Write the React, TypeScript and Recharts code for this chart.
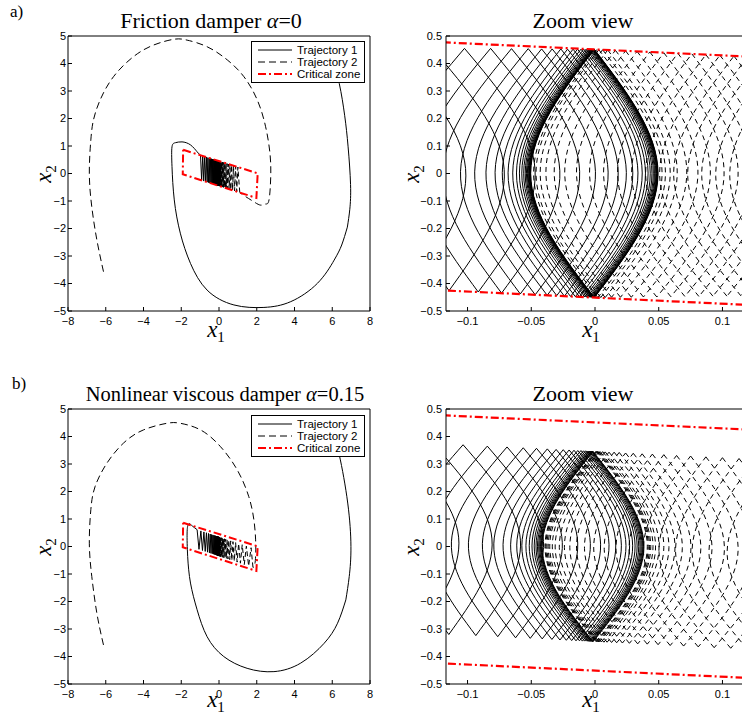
import React from 'react';
import { LineChart, Line, XAxis, YAxis, Legend } from 'recharts';

type Pt = [number, number];
type Row = { x: number; y: number | null };

// ---------- axes ----------
const overviewXTicks = [-8, -6, -4, -2, 0, 2, 4, 6, 8];
const overviewYTicks = [-5, -4, -3, -2, -1, 0, 1, 2, 3, 4, 5];
const zoomXTicks = [-0.1, -0.05, 0, 0.05, 0.1];
const zoomYTicks = [-0.5, -0.4, -0.3, -0.2, -0.1, 0, 0.1, 0.2, 0.3, 0.4, 0.5];
const overviewXDomain: [number, number] = [-8, 8];
const overviewYDomain: [number, number] = [-5, 5];
const zoomXDomain: [number, number] = [-0.1169, 0.1169];
const zoomYDomain: [number, number] = [-0.5, 0.5];

const seriesNames = ['Trajectory 1', 'Trajectory 2', 'Critical zone'];

// ---------- critical zone (same in all panels) ----------
const criticalZone: Pt[] = [[-1.9, 0.863], [2.05, 0.007], [1.98, -0.889], [-1.92, -0.027], [-1.9, 0.863]];

// ---------- a) friction damper, overview ----------
const aTraj1Outer: Pt[][] = [
  [[5.95, 4.4], [6.37, 3.28], [6.66, 2.1], [6.84, 0.97], [6.97, -0.4], [6.93, -1.3], [6.8, -1.95]],
  [[6.8, -1.95], [6.5, -2.6], [6.1, -3.15], [5.22, -3.99], [3.8, -4.66], [2.38, -4.87], [0.79, -4.78], [-0.63, -4.24],
   [-1.51, -3.27], [-2.05, -2.17], [-2.37, -0.96], [-2.49, 0.25], [-2.49, 0.97], [-2.31, 1.12], [-1.96, 1.15],
   [-1.51, 1.04], [-1.16, 0.79], [-0.98, 0.664]],
];
const aTraj1Zigzag: Pt[] = [
  [-0.98, 0.664], [-0.92, -0.251], [-0.862, 0.638], [-0.81, -0.275], [-0.759, 0.616], [-0.713, -0.296], [-0.668, 0.596],
  [-0.628, -0.315], [-0.588, 0.579], [-0.552, -0.331], [-0.517, 0.563], [-0.486, -0.346], [-0.455, 0.55], [-0.427, -0.358],
  [-0.4, 0.538], [-0.376, -0.369], [-0.352, 0.527], [-0.331, -0.379], [-0.31, 0.518], [-0.291, -0.388], [-0.273, 0.51],
  [-0.256, -0.395], [-0.24, 0.503], [-0.225, -0.402], [-0.211, 0.497], [-0.198, -0.408], [-0.186, 0.491], [-0.174, -0.413],
  [-0.163, 0.486], [-0.151, -0.418], [-0.14, 0.481], [-0.13, -0.423], [-0.12, 0.477], [-0.11, -0.427], [-0.1, 0.473],
  [-0.091, -0.431], [-0.082, 0.469], [-0.074, -0.435], [-0.066, 0.465], [-0.059, -0.438], [-0.052, 0.462], [-0.046, -0.441],
  [-0.04, 0.46], [-0.035, -0.443], [-0.03, 0.458], [-0.025, -0.446], [-0.02, 0.455], [-0.016, -0.448], [-0.012, 0.454],
  [-0.008, -0.449], [-0.005, 0.452],
];
const aTraj2Outer: Pt[][] = [
  [[-6.12, -3.57], [-6.47, -2.42], [-6.74, -1.21], [-6.87, 0.01], [-6.79, 1.22], [-6.65, 1.95], [-6.3, 2.67], [-5.59, 3.52],
   [-4.53, 4.25], [-3.47, 4.67], [-2.4, 4.88], [-1.69, 4.85], [-0.63, 4.61], [0.44, 4.13], [1.32, 3.52], [2.03, 2.67],
   [2.47, 1.7], [2.7, 0.73], [2.74, -0.12], [2.65, -0.96], [2.47, -1.11], [2.21, -1.15], [1.85, -1.03], [1.41, -0.84],
   [1.1, -0.69]],
];
const aTraj2Zigzag: Pt[] = [
  [1.1, -0.69], [1.0, 0.234], [0.94, -0.655], [0.88, 0.26], [0.825, -0.63], [0.77, 0.284], [0.72, -0.607], [0.67, 0.306],
  [0.625, -0.587], [0.58, 0.325], [0.54, -0.568], [0.5, 0.342], [0.465, -0.552], [0.43, 0.358], [0.4, -0.538], [0.37, 0.371],
  [0.34, -0.525], [0.31, 0.384], [0.285, -0.513], [0.26, 0.395], [0.24, -0.503], [0.22, 0.403], [0.2, -0.494], [0.18, 0.412],
  [0.165, -0.487], [0.15, 0.418], [0.135, -0.48], [0.12, 0.425], [0.105, -0.474], [0.09, 0.431], [0.078, -0.468],
  [0.065, 0.437], [0.055, -0.463], [0.045, 0.441], [0.038, -0.459], [0.03, 0.444], [0.022, -0.456], [0.015, 0.448],
  [0.01, -0.453], [0.005, 0.45],
];

// ---------- a) zoom view: switching points (top / bottom cusps, in time order) ----------
const aZoomHalfWidth = 0.05;
const aZoomTraj1Cusps: Pt[] = [
  [-0.2, 0.458], [-0.1789, -0.412], [-0.16, 0.457], [-0.1431, -0.42], [-0.128, 0.456], [-0.1145, -0.426],
  [-0.1024, 0.455], [-0.0916, -0.431], [-0.0819, 0.455], [-0.0733, -0.435], [-0.0655, 0.454], [-0.0586, -0.438],
  [-0.0524, 0.454], [-0.0469, -0.441], [-0.0419, 0.453], [-0.0375, -0.443], [-0.0336, 0.453], [-0.03, -0.444],
  [-0.0268, 0.453], [-0.024, -0.446], [-0.0215, 0.452], [-0.0192, -0.447], [-0.0172, 0.452], [-0.0154, -0.448],
  [-0.0137, 0.452], [-0.0122, -0.448], [-0.011, 0.452], [-0.0098, -0.449], [-0.0088, 0.452], [-0.0079, -0.449],
  [-0.007, 0.452], [-0.0063, -0.45], [-0.0056, 0.452], [-0.005, -0.45], [-0.0045, 0.452], [-0.004, -0.45],
  [-0.0036, 0.452], [-0.0032, -0.45], [-0.0029, 0.452], [-0.0026, -0.45], [-0.0023, 0.452], [-0.0021, -0.451],
  [-0.0018, 0.452], [-0.0016, -0.451], [-0.0015, 0.452], [-0.0013, -0.451], [-0.0012, 0.452], [-0.0011, -0.451],
  [-0.001, 0.452], [-0.0009, -0.451], [-0.0008, 0.452], [-0.0007, -0.451], [-0.0006, 0.452], [-0.0005, -0.451],
  [-0.0004, 0.452],
];
const aZoomTraj2Cusps: Pt[] = [
  [0.175, 0.413], [0.1695, -0.443], [0.164, 0.415], [0.1585, -0.443], [0.153, 0.418], [0.1475, -0.444],
  [0.142, 0.42], [0.1365, -0.444], [0.131, 0.423], [0.1255, -0.445], [0.12, 0.425], [0.1145, -0.445],
  [0.109, 0.427], [0.1035, -0.446], [0.098, 0.43], [0.0925, -0.446], [0.087, 0.432], [0.0815, -0.447],
  [0.076, 0.435], [0.0705, -0.447], [0.065, 0.437], [0.0595, -0.448], [0.054, 0.439], [0.0485, -0.449],
  [0.043, 0.442], [0.038, -0.449], [0.033, 0.444], [0.0285, -0.45], [0.024, 0.446], [0.02, -0.45],
  [0.016, 0.448], [0.013, -0.45], [0.01, 0.449], [0.008, -0.451], [0.006, 0.45], [0.0045, -0.451],
  [0.003, 0.45], [0.0022, -0.451], [0.0015, 0.451],
];

// ---------- b) nonlinear viscous damper, overview ----------
const bTraj1Outer: Pt[][] = [
  [[5.95, 4.4], [6.37, 3.34], [6.82, 1.58], [6.99, 0.0], [6.9, -1.09], [6.72, -1.94]],
  [[6.72, -1.94], [6.28, -2.79], [5.57, -3.52], [4.33, -4.24], [2.91, -4.55], [1.49, -4.43], [0.25, -4.0], [-0.63, -3.28],
   [-1.16, -2.3], [-1.51, -1.33], [-1.66, -0.36], [-1.69, 0.49], [-1.64, 0.78], [-1.56, 0.83], [-1.42, 0.75], [-1.16, 0.613]],
];
const bTraj1Zigzag: Pt[] = [
  [-1.16, 0.613], [-1.06, -0.102], [-0.96, 0.567], [-0.875, -0.145], [-0.8, 0.53], [-0.73, -0.178], [-0.665, 0.499],
  [-0.608, -0.206], [-0.555, 0.474], [-0.508, -0.229], [-0.465, 0.453], [-0.426, -0.248], [-0.39, 0.436], [-0.356, -0.264],
  [-0.325, 0.421], [-0.297, -0.278], [-0.27, 0.408], [-0.247, -0.289], [-0.225, 0.398], [-0.204, -0.299], [-0.185, 0.389],
  [-0.168, -0.307], [-0.152, 0.381], [-0.138, -0.314], [-0.125, 0.375], [-0.112, -0.32], [-0.1, 0.369], [-0.09, -0.325],
  [-0.08, 0.364], [-0.071, -0.33], [-0.063, 0.36], [-0.055, -0.333], [-0.048, 0.357], [-0.041, -0.337], [-0.035, 0.354],
  [-0.029, -0.339], [-0.024, 0.352], [-0.019, -0.342], [-0.014, 0.349], [-0.01, -0.344], [-0.006, 0.347],
];
const bTraj2Outer: Pt[][] = [
  [[-6.12, -3.58], [-6.47, -2.43], [-6.74, -1.09], [-6.87, 0.12], [-6.79, 1.34], [-6.56, 2.19], [-5.94, 3.03], [-5.06, 3.76],
   [-4.0, 4.24], [-2.76, 4.48], [-2.05, 4.48], [-0.98, 4.24], [0.08, 3.63], [0.97, 2.78], [1.58, 1.81], [1.85, 0.96],
   [1.94, 0.24], [1.94, -0.36], [1.88, -0.7], [1.8, -0.76]],
];
const bTraj2Zigzag: Pt[] = [
  [1.8, -0.76], [1.7, -0.045], [1.57, -0.707], [1.45, 0.013], [1.34, -0.654], [1.23, 0.063], [1.135, -0.607], [1.04, 0.107],
  [0.96, -0.567], [0.88, 0.144], [0.81, -0.532], [0.74, 0.176], [0.68, -0.502], [0.62, 0.203], [0.57, -0.477], [0.52, 0.226],
  [0.475, -0.455], [0.43, 0.247], [0.39, -0.436], [0.355, 0.264], [0.32, -0.42], [0.29, 0.279], [0.26, -0.406],
  [0.235, 0.292], [0.21, -0.394], [0.19, 0.302], [0.17, -0.385], [0.15, 0.312], [0.132, -0.376], [0.115, 0.32],
  [0.1, -0.369], [0.085, 0.326], [0.072, -0.363], [0.06, 0.332], [0.05, -0.358], [0.04, 0.337], [0.032, -0.353],
  [0.025, 0.34], [0.018, -0.35], [0.012, 0.343], [0.008, -0.348], [0.004, 0.345],
];

// ---------- b) zoom view ----------
const bZoomHalfWidth = 0.04;
const bZoomTraj1Cusps: Pt[] = [
  [-0.19, 0.39], [-0.1715, -0.307], [-0.1545, 0.382], [-0.1395, -0.314], [-0.127, 0.375], [-0.1147, -0.32],
  [-0.1035, 0.37], [-0.0935, -0.324], [-0.0845, 0.365], [-0.0763, -0.328], [-0.069, 0.362], [-0.0623, -0.332],
  [-0.0563, 0.359], [-0.0508, -0.334], [-0.0459, 0.357], [-0.0414, -0.336], [-0.0374, 0.355], [-0.0338, -0.338],
  [-0.0305, 0.353], [-0.0275, -0.34], [-0.0249, 0.352], [-0.0225, -0.341], [-0.0203, 0.351], [-0.0183, -0.342],
  [-0.0165, 0.35], [-0.0149, -0.343], [-0.0135, 0.349], [-0.0122, -0.343], [-0.011, 0.349], [-0.0099, -0.344],
  [-0.009, 0.348], [-0.0081, -0.344], [-0.0073, 0.348], [-0.0066, -0.344], [-0.006, 0.347], [-0.0054, -0.345],
  [-0.0049, 0.347], [-0.0044, -0.345], [-0.004, 0.347], [-0.0036, -0.345], [-0.0032, 0.347], [-0.0029, -0.345],
  [-0.0026, 0.347], [-0.0023, -0.345], [-0.0021, 0.346], [-0.0019, -0.346], [-0.0017, 0.346], [-0.0015, -0.346],
  [-0.0013, 0.346],
];
const bZoomTraj2Cusps: Pt[] = [
  [0.185, 0.303], [0.1775, -0.387], [0.17, 0.307], [0.1625, -0.383], [0.155, 0.31], [0.1475, -0.38],
  [0.14, 0.314], [0.133, -0.377], [0.126, 0.317], [0.1195, -0.373], [0.113, 0.32], [0.1065, -0.37],
  [0.1, 0.323], [0.0935, -0.368], [0.087, 0.326], [0.081, -0.365], [0.075, 0.329], [0.0695, -0.362],
  [0.064, 0.331], [0.059, -0.36], [0.054, 0.334], [0.0495, -0.357], [0.045, 0.336], [0.041, -0.355],
  [0.037, 0.337], [0.0335, -0.354], [0.03, 0.339], [0.027, -0.352], [0.024, 0.34], [0.0215, -0.351],
  [0.019, 0.342], [0.017, -0.35], [0.015, 0.343], [0.013, -0.349], [0.011, 0.343], [0.0095, -0.348],
  [0.008, 0.344], [0.007, -0.348], [0.006, 0.345], [0.005, -0.347], [0.004, 0.345], [0.0035, -0.347],
  [0.003, 0.345], [0.0025, -0.347], [0.002, 0.346], [0.0016, -0.346], [0.0012, 0.346], [0.0009, -0.346],
  [0.0006, 0.346],
];

// ---------- helpers (build the tables the library needs) ----------
const FONT_SANS = '"Liberation Sans", Arial, Helvetica, sans-serif';
const FONT_SERIF = '"Liberation Serif", "Times New Roman", Times, serif';
const RED = '#ff0000';

const fmt = (v: number) => String(v).replace('-', '\u2212');

function rowsFrom(segs: Pt[][]): Row[] {
  const rows: Row[] = [];
  segs.forEach((seg, i) => {
    if (i > 0) rows.push({ x: seg[0][0], y: null });
    seg.forEach(([x, y]) => rows.push({ x, y }));
  });
  return rows;
}

// each half cycle between two switching points is an arc bulging right (top->bottom) or left (bottom->top)
function arcsFrom(cusps: Pt[], halfWidth: number): Pt[][] {
  const segs: Pt[][] = [];
  for (let i = 0; i < cusps.length - 1; i++) {
    const [x0, y0] = cusps[i];
    const [x1, y1] = cusps[i + 1];
    const bulge = y0 > y1 ? halfWidth : -halfWidth;
    segs.push([[x0, y0], [(x0 + x1) / 2 + bulge, (y0 + y1) / 2], [x1, y1]]);
  }
  return segs;
}

type LineSpec = {
  key: string;
  rows: Row[];
  stroke: string;
  width: number;
  dash?: string;
  curve: 'natural' | 'linear';
};

const axisStroke = { stroke: '#000', strokeWidth: 1 };
const tickText = { fill: '#000', fontSize: 11, fontFamily: FONT_SANS };

function LegendBox() {
  const items = [
    { name: seriesNames[0], stroke: '#000', dash: undefined as string | undefined, w: 1 },
    { name: seriesNames[1], stroke: '#000', dash: '7 4', w: 1 },
    { name: seriesNames[2], stroke: RED, dash: '8 3 2 3', w: 2 },
  ];
  return (
    <svg width={114} height={42} style={{ display: 'block' }}>
      <rect x={0.5} y={0.5} width={113} height={41} fill="#fff" stroke="#000" strokeWidth={1} />
      {items.map((it, i) => (
        <g key={it.name}>
          <line x1={7} x2={41} y1={9 + 12 * i} y2={9 + 12 * i} stroke={it.stroke} strokeWidth={it.w} strokeDasharray={it.dash} />
          <text x={46} y={13 + 12 * i} fontFamily={FONT_SANS} fontSize={11.5} fill="#000">{it.name}</text>
        </g>
      ))}
    </svg>
  );
}

type PanelProps = {
  left: number;
  top: number;
  width: number;
  height: number;
  margin: { top: number; right: number; bottom: number; left: number };
  xDomain: [number, number];
  yDomain: [number, number];
  xTicks: number[];
  yTicks: number[];
  yTickMargin: number;
  lines: LineSpec[];
  legendAt?: { left: number; top: number };
};

function Panel(p: PanelProps) {
  return (
    <div style={{ position: 'absolute', left: p.left, top: p.top }}>
      <LineChart width={p.width} height={p.height} margin={p.margin}>
        <XAxis xAxisId="b" orientation="bottom" type="number" dataKey="x" domain={p.xDomain} allowDataOverflow
          ticks={p.xTicks} interval={0} height={30} tickSize={-4} tickMargin={10} tickFormatter={fmt}
          tick={tickText} axisLine={axisStroke} tickLine={axisStroke} />
        <XAxis xAxisId="t" orientation="top" type="number" dataKey="x" domain={p.xDomain} allowDataOverflow
          ticks={p.xTicks} interval={0} height={1} tickSize={-4} tick={false} axisLine={axisStroke} tickLine={axisStroke} />
        <YAxis yAxisId="l" orientation="left" type="number" domain={p.yDomain} allowDataOverflow
          ticks={p.yTicks} interval={0} width={40} tickSize={-4} tickMargin={p.yTickMargin} tickFormatter={fmt}
          tick={tickText} axisLine={axisStroke} tickLine={axisStroke} />
        <YAxis yAxisId="r" orientation="right" type="number" domain={p.yDomain} allowDataOverflow
          ticks={p.yTicks} interval={0} width={1} tickSize={-4} tick={false} axisLine={axisStroke} tickLine={axisStroke} />
        {p.lines.map((l) => (
          <Line key={l.key} xAxisId="b" yAxisId="l" data={l.rows} dataKey="y" type={l.curve}
            stroke={l.stroke} strokeWidth={l.width} strokeDasharray={l.dash} dot={false} activeDot={false}
            connectNulls={false} isAnimationActive={false} legendType="none" />
        ))}
        {p.legendAt && (
          <Legend layout="vertical" align="center" verticalAlign="middle" content={() => <LegendBox />}
            wrapperStyle={{ left: p.legendAt.left, top: p.legendAt.top, width: 114, height: 42 }} />
        )}
      </LineChart>
    </div>
  );
}

function overviewLines(t1Outer: Pt[][], t1Zig: Pt[], t2Outer: Pt[][], t2Zig: Pt[]): LineSpec[] {
  return [
    { key: 't1o', rows: rowsFrom(t1Outer), stroke: '#000', width: 1, curve: 'natural' },
    { key: 't1z', rows: rowsFrom([t1Zig]), stroke: '#000', width: 1, curve: 'linear' },
    { key: 't2o', rows: rowsFrom(t2Outer), stroke: '#000', width: 1, dash: '7 4', curve: 'natural' },
    { key: 't2z', rows: rowsFrom([t2Zig]), stroke: '#000', width: 1, dash: '5 3', curve: 'linear' },
    { key: 'cz', rows: rowsFrom([criticalZone]), stroke: RED, width: 2, dash: '8 3 2 3', curve: 'linear' },
  ];
}

function zoomLines(c1: Pt[], c2: Pt[], w: number): LineSpec[] {
  return [
    { key: 'z1', rows: rowsFrom(arcsFrom(c1, w)), stroke: '#000', width: 1, curve: 'natural' },
    { key: 'z2', rows: rowsFrom(arcsFrom(c2, w)), stroke: '#000', width: 1, dash: '5 4', curve: 'natural' },
    { key: 'cz', rows: rowsFrom([criticalZone]), stroke: RED, width: 2.2, dash: '8 3 2 3', curve: 'linear' },
  ];
}

function AxisLabel1({ x, y }: { x: number; y: number }) {
  return (
    <text x={x} y={y} textAnchor="middle" fontFamily={FONT_SERIF} fontSize={23} fill="#000">
      <tspan fontStyle="italic">x</tspan>
      <tspan fontSize={15} dy={5}>1</tspan>
    </text>
  );
}
function AxisLabel2({ x, y }: { x: number; y: number }) {
  return (
    <text x={x} y={y} textAnchor="middle" fontFamily={FONT_SERIF} fontSize={23} fill="#000" transform={`rotate(-90 ${x} ${y})`}>
      <tspan fontStyle="italic">x</tspan>
      <tspan fontSize={15} dy={5}>2</tspan>
    </text>
  );
}

export default function App() {
  const aOver = overviewLines(aTraj1Outer, aTraj1Zigzag, aTraj2Outer, aTraj2Zigzag);
  const bOver = overviewLines(bTraj1Outer, bTraj1Zigzag, bTraj2Outer, bTraj2Zigzag);
  const aZoom = zoomLines(aZoomTraj1Cusps, aZoomTraj2Cusps, aZoomHalfWidth);
  const bZoom = zoomLines(bZoomTraj1Cusps, bZoomTraj2Cusps, bZoomHalfWidth);

  return (
    <div style={{ position: 'fixed', left: 0, top: 0, width: 742, height: 724, overflow: 'hidden', background: '#fff' }}>
      <Panel left={0} top={0} width={380} height={360} margin={{ top: 35, right: 9, bottom: 19, left: 28 }}
        xDomain={overviewXDomain} yDomain={overviewYDomain} xTicks={overviewXTicks} yTicks={overviewYTicks}
        yTickMargin={6} lines={aOver} legendAt={{ left: 251, top: 41 }} />
      <Panel left={380} top={0} width={380} height={360} margin={{ top: 35, right: 15, bottom: 19, left: 26 }}
        xDomain={zoomXDomain} yDomain={zoomYDomain} xTicks={zoomXTicks} yTicks={zoomYTicks}
        yTickMargin={8} lines={aZoom} />
      <Panel left={0} top={370} width={380} height={360} margin={{ top: 38, right: 9, bottom: 16, left: 28 }}
        xDomain={overviewXDomain} yDomain={overviewYDomain} xTicks={overviewXTicks} yTicks={overviewYTicks}
        yTickMargin={6} lines={bOver} legendAt={{ left: 251, top: 45 }} />
      <Panel left={380} top={370} width={380} height={360} margin={{ top: 38, right: 15, bottom: 16, left: 26 }}
        xDomain={zoomXDomain} yDomain={zoomYDomain} xTicks={zoomXTicks} yTicks={zoomYTicks}
        yTickMargin={8} lines={bZoom} />

      <svg width={742} height={724} style={{ position: 'absolute', left: 0, top: 0, pointerEvents: 'none' }}>
        <text x={10} y={17} fontFamily={FONT_SERIF} fontSize={17} fill="#000">a)</text>
        <text x={12} y={389} fontFamily={FONT_SERIF} fontSize={17} fill="#000">b)</text>
        <text x={211} y={28} textAnchor="middle" fontFamily={FONT_SERIF} fontSize={22} fill="#000">
          Friction damper <tspan fontStyle="italic">α</tspan>=0
        </text>
        <text x={583} y={28} textAnchor="middle" fontFamily={FONT_SERIF} fontSize={22} fill="#000">Zoom view</text>
        <text x={225} y={401} textAnchor="middle" fontFamily={FONT_SERIF} fontSize={20.5} fill="#000">
          Nonlinear viscous damper <tspan fontStyle="italic">α</tspan>=0.15
        </text>
        <text x={583} y={401} textAnchor="middle" fontFamily={FONT_SERIF} fontSize={22} fill="#000">Zoom view</text>
        <AxisLabel1 x={216} y={337} />
        <AxisLabel1 x={591} y={337} />
        <AxisLabel1 x={216} y={707} />
        <AxisLabel1 x={591} y={707} />
        <AxisLabel2 x={51} y={174} />
        <AxisLabel2 x={419} y={174} />
        <AxisLabel2 x={51} y={547} />
        <AxisLabel2 x={419} y={547} />
      </svg>
    </div>
  );
}
